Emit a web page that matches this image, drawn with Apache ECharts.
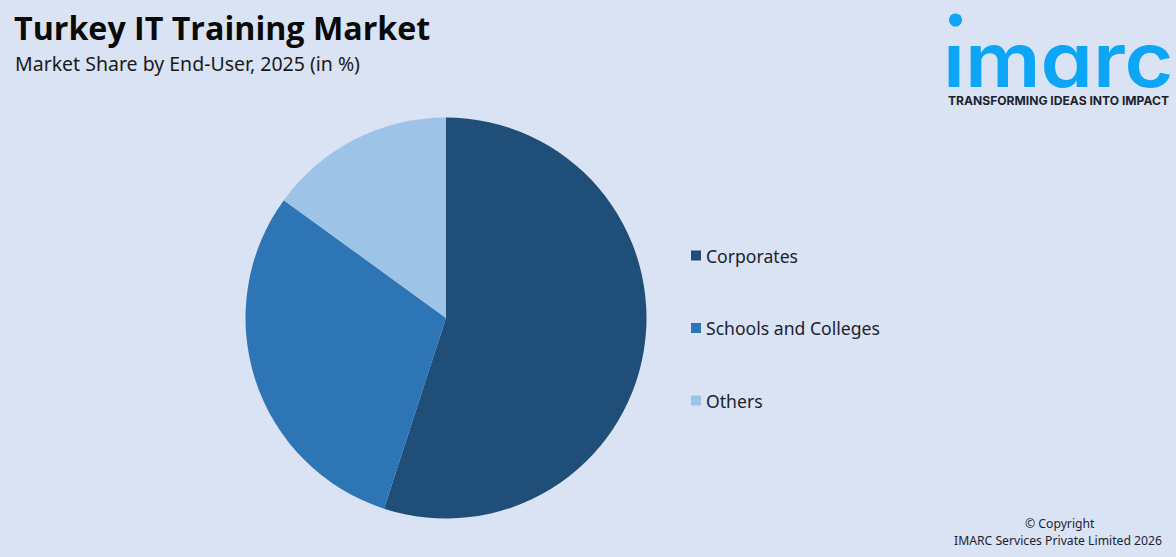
<!DOCTYPE html>
<html>
<head>
<meta charset="utf-8">
<title>Turkey IT Training Market</title>
<script src="https://cdn.jsdelivr.net/npm/echarts@6/dist/echarts.min.js"></script>
<style>
  html, body { margin: 0; padding: 0; background: #dae3f3; }
  #chart { width: 1176px; height: 557px; }
</style>
</head>
<body>
<div id="chart"></div>
<script>
const categories = ['Corporates', 'Schools and Colleges', 'Others'];
const shares = [55, 30, 15];
const colors = ['#1f4e79', '#2e75b6', '#9dc3e6'];

const chart = echarts.init(document.getElementById('chart'), null, { renderer: 'svg' });

chart.setOption({
  animation: false,
  backgroundColor: '#dae3f3',
  color: colors,
  title: [
    {
      text: 'Turkey IT Training Market',
      left: 14, top: 11, padding: 0,
      textStyle: { fontFamily: 'Open Sans', fontWeight: 700, fontSize: 32.2, color: '#0a0a0a' }
    },
    {
      text: 'Market Share by End-User, 2025 (in %)',
      left: 15, top: 53, padding: 0,
      textStyle: { fontFamily: 'Noto Sans', fontWeight: 400, fontSize: 19.5, color: '#1a1a1a' }
    }
  ],
  legend: {
    orient: 'vertical',
    left: 691, top: 244,
    padding: 0,
    itemWidth: 10, itemHeight: 10,
    itemGap: 49.5,
    icon: 'rect',
    selectedMode: false,
    data: categories,
    textStyle: { fontFamily: 'Noto Sans', fontSize: 17.6, color: '#1a2230', height: 23, lineHeight: 23 }
  },
  series: [{
    type: 'pie',
    center: [446, 318],
    radius: [0, 200.5],
    startAngle: 90,
    clockwise: true,
    label: { show: false },
    labelLine: { show: false },
    emphasis: { disabled: true },
    data: categories.map((name, i) => ({ name, value: shares[i] }))
  }],
  graphic: [
    // imarc logo
    { type: 'circle', shape: { cx: 955.5, cy: 20, r: 6.5 }, style: { fill: '#0da5f5' } },
    {
      type: 'text', x: 943, y: 39, scaleX: 1.105,
      style: { text: 'ımɑrc', fontFamily: 'Inter', fontWeight: 600, fontSize: 76, lineHeight: 40, fill: '#0da5f5' }
    },
    {
      type: 'text', left: 948, top: 94,
      style: { text: 'TRANSFORMING IDEAS INTO IMPACT', fontFamily: 'Inter', fontWeight: 700, fontSize: 12.1, fill: '#1a2230' }
    },
    // copyright
    {
      type: 'text', left: 1025, top: 517,
      style: { text: '© Copyright', fontFamily: 'Noto Sans', fontSize: 12.2, fill: '#1a2230' }
    },
    {
      type: 'text', left: 954, top: 534,
      style: { text: 'IMARC Services Private Limited 2026', fontFamily: 'Noto Sans', fontSize: 12.2, fill: '#1a2230' }
    }
  ]
});
</script>
</body>
</html>
